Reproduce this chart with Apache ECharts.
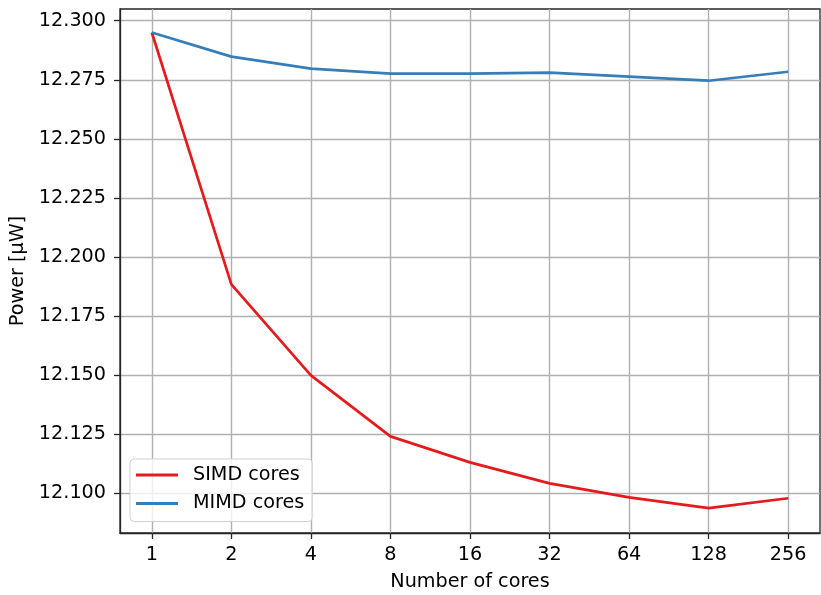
<!DOCTYPE html>
<html><head><meta charset="utf-8">
<script src="https://cdn.jsdelivr.net/npm/echarts@6/dist/echarts.min.js"></script>
<style>html,body{margin:0;padding:0;background:#fff}#c{width:821px;height:595px}</style>
</head><body><div id="c"></div>
<script>
const categories = ['1','2','4','8','16','32','64','128','256'];
const simd = [12.295, 12.1884, 12.1499, 12.1241, 12.1131, 12.1042, 12.0983, 12.0937, 12.0979];
const mimd = [12.295, 12.2848, 12.2797, 12.2776, 12.2776, 12.2780, 12.2763, 12.2746, 12.2784];
const yTicks = [12.100, 12.125, 12.150, 12.175, 12.200, 12.225, 12.250, 12.275, 12.300];

const xIdx = categories.map((_, i) => i);
const font = 'DejaVu Sans';
const fs = 19.2;
const chart = echarts.init(document.getElementById('c'), null, {renderer: 'canvas'});
chart.setOption({
  animation: false,
  backgroundColor: '#fff',
  grid: {left: 120, right: 1, top: 9, bottom: 62, outerBoundsMode: 'none', containLabel: false,
         show: true, borderColor: '#262626', borderWidth: 1.3, backgroundColor: 'transparent'},
  xAxis: {
    type: 'value', min: -0.4, max: 8.4,
    name: 'Number of cores', nameLocation: 'middle', nameGap: 40,
    nameTextStyle: {fontFamily: font, fontSize: fs, color: '#000'},
    axisLine: {show: true, onZero: false, lineStyle: {color: '#262626', width: 1.3}},
    axisTick: {show: true, inside: false, length: 6, customValues: xIdx, lineStyle: {color: '#262626', width: 1.3}},
    axisLabel: {customValues: xIdx, margin: 13, fontFamily: font, fontSize: fs, color: '#000', formatter: v => categories[Math.round(v)]},
    splitLine: {show: true, lineStyle: {color: '#b0b0b0', width: 1.4}}
  },
  yAxis: {
    type: 'value', min: 12.0832, max: 12.30495,
    name: 'Power [µW]', nameLocation: 'middle', nameGap: 90, nameRotate: 90,
    nameTextStyle: {fontFamily: font, fontSize: fs, color: '#000'},
    axisLine: {show: true, onZero: false, lineStyle: {color: '#262626', width: 1.3}},
    axisTick: {show: true, inside: false, length: 6, customValues: yTicks, lineStyle: {color: '#262626', width: 1.3}},
    axisLabel: {customValues: yTicks, margin: 14, fontFamily: font, fontSize: fs, color: '#000', formatter: v => v.toFixed(3)},
    splitLine: {show: true, lineStyle: {color: '#b0b0b0', width: 1.4}}
  },
  legend: {
    left: 130, top: 459, orient: 'vertical',
    backgroundColor: 'rgba(255,255,255,0.8)', borderColor: '#d0d0d0', borderWidth: 1, borderRadius: 4,
    padding: [6, 8, 8, 6], itemGap: 8.5, itemWidth: 42, itemHeight: 3,
    icon: 'rect',
    textStyle: {fontFamily: font, fontSize: fs, lineHeight: 20, color: '#000', padding: [0, 0, 0, 10]},
    data: ['SIMD cores', 'MIMD cores']
  },
  series: [
    {name: 'SIMD cores', type: 'line', data: simd.map((v, i) => [i, v]), showSymbol: false, symbol: 'none',
     lineStyle: {color: '#e41a1c', width: 2.7}, itemStyle: {color: '#e41a1c'}, z: 3},
    {name: 'MIMD cores', type: 'line', data: mimd.map((v, i) => [i, v]), showSymbol: false, symbol: 'none',
     lineStyle: {color: '#377eb8', width: 2.7}, itemStyle: {color: '#377eb8'}, z: 3}
  ]
});
</script></body></html>
